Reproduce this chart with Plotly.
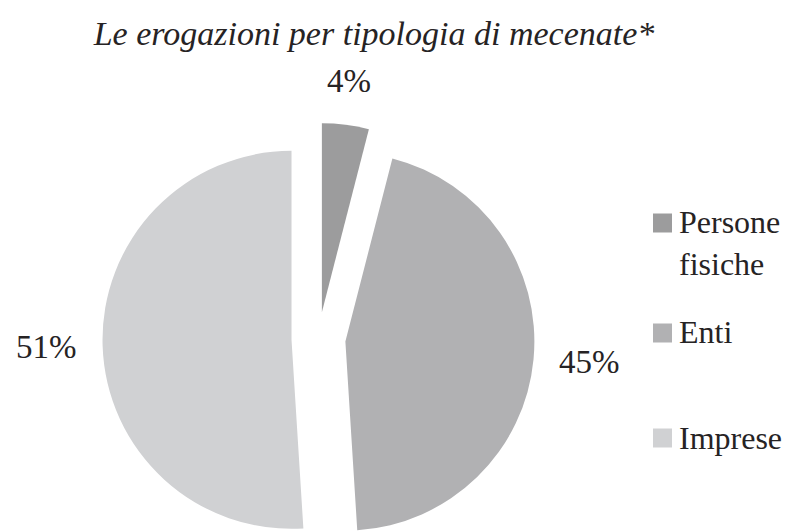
import math
import plotly.graph_objects as go

# Donations by type of patron
labels = ["Persone fisiche", "Enti", "Imprese"]
legend_text = ["Persone<br>fisiche", "Enti", "Imprese"]
values = [4, 45, 51]
colors = ["#9c9c9d", "#b1b1b3", "#d0d1d3"]

title = "<i>Le erogazioni per tipologia di mecenate*</i>"

W, H = 792, 531
TEXT = "#262324"
SERIF = "Liberation Serif, serif"

# pie geometry in pixels: centre, radius, how far each slice is pulled out,
# and distance of the percentage labels from the rim
CX, CY, R = 318.5, 339.0, 189.0
PULL_PX = 27.0
LABEL_GAP = 24.0


def px_x(x):
    return x / W


def px_y(y):
    return 1 - y / H


def clamp(v):
    return min(1.0, max(0.0, v))


fig = go.Figure()

# exploded pie: each slice is drawn by its own pie trace whose centre is
# shifted outward along the slice's mid-angle
total = float(sum(values))
cum = 0.0
for i, v in enumerate(values):
    mid = 2 * math.pi * (cum + v / 2.0) / total
    cum += v
    dx, dy = math.sin(mid), -math.cos(mid)
    cx, cy = CX + PULL_PX * dx, CY + PULL_PX * dy
    slice_colors = [c if j == i else "rgba(0,0,0,0)" for j, c in enumerate(colors)]
    fig.add_trace(go.Pie(
        labels=labels,
        values=values,
        sort=False,
        direction="clockwise",
        rotation=0,
        marker=dict(colors=slice_colors, line=dict(width=0)),
        textinfo="none",
        hoverinfo="skip",
        showlegend=False,
        domain=dict(x=[clamp(px_x(cx - R)), clamp(px_x(cx + R))],
                    y=[clamp(px_y(cy + R)), clamp(px_y(cy - R))]),
    ))

    # percentage label outside the rim
    lx, ly = cx + (R + LABEL_GAP) * dx, cy + (R + LABEL_GAP) * dy
    xanchor = "left" if dx > 0.5 else ("right" if dx < -0.5 else "center")
    yanchor = "bottom" if dy < -0.5 else ("top" if dy > 0.5 else "middle")
    fig.add_annotation(xref="paper", yref="paper", x=px_x(lx), y=px_y(ly),
                       xanchor=xanchor, yanchor=yanchor,
                       text=f"{v:g}%", showarrow=False,
                       font=dict(family=SERIF, size=33, color=TEXT))

# legend: square swatches with labels beside them
swatch_centers = [223, 333, 438]
label_centers = [243, 332, 438]
for name, col, yc, yt in zip(legend_text, colors, swatch_centers, label_centers):
    fig.add_shape(type="rect", xref="paper", yref="paper",
                  x0=px_x(653), x1=px_x(672), y0=px_y(yc + 9.5), y1=px_y(yc - 9.5),
                  fillcolor=col, line=dict(width=0))
    fig.add_annotation(xref="paper", yref="paper", x=px_x(677), y=px_y(yt),
                       xanchor="left", yanchor="middle", align="left",
                       text=name, showarrow=False,
                       font=dict(family=SERIF, size=32, color=TEXT))

fig.update_layout(
    width=W, height=H,
    margin=dict(l=0, r=0, t=0, b=0),
    paper_bgcolor="white",
    plot_bgcolor="white",
    title=dict(text=title, x=px_x(374), xanchor="center",
               y=px_y(33), yanchor="middle", yref="container",
               font=dict(family=SERIF, size=34, color=TEXT)),
)

fig.write_html("out.html")
